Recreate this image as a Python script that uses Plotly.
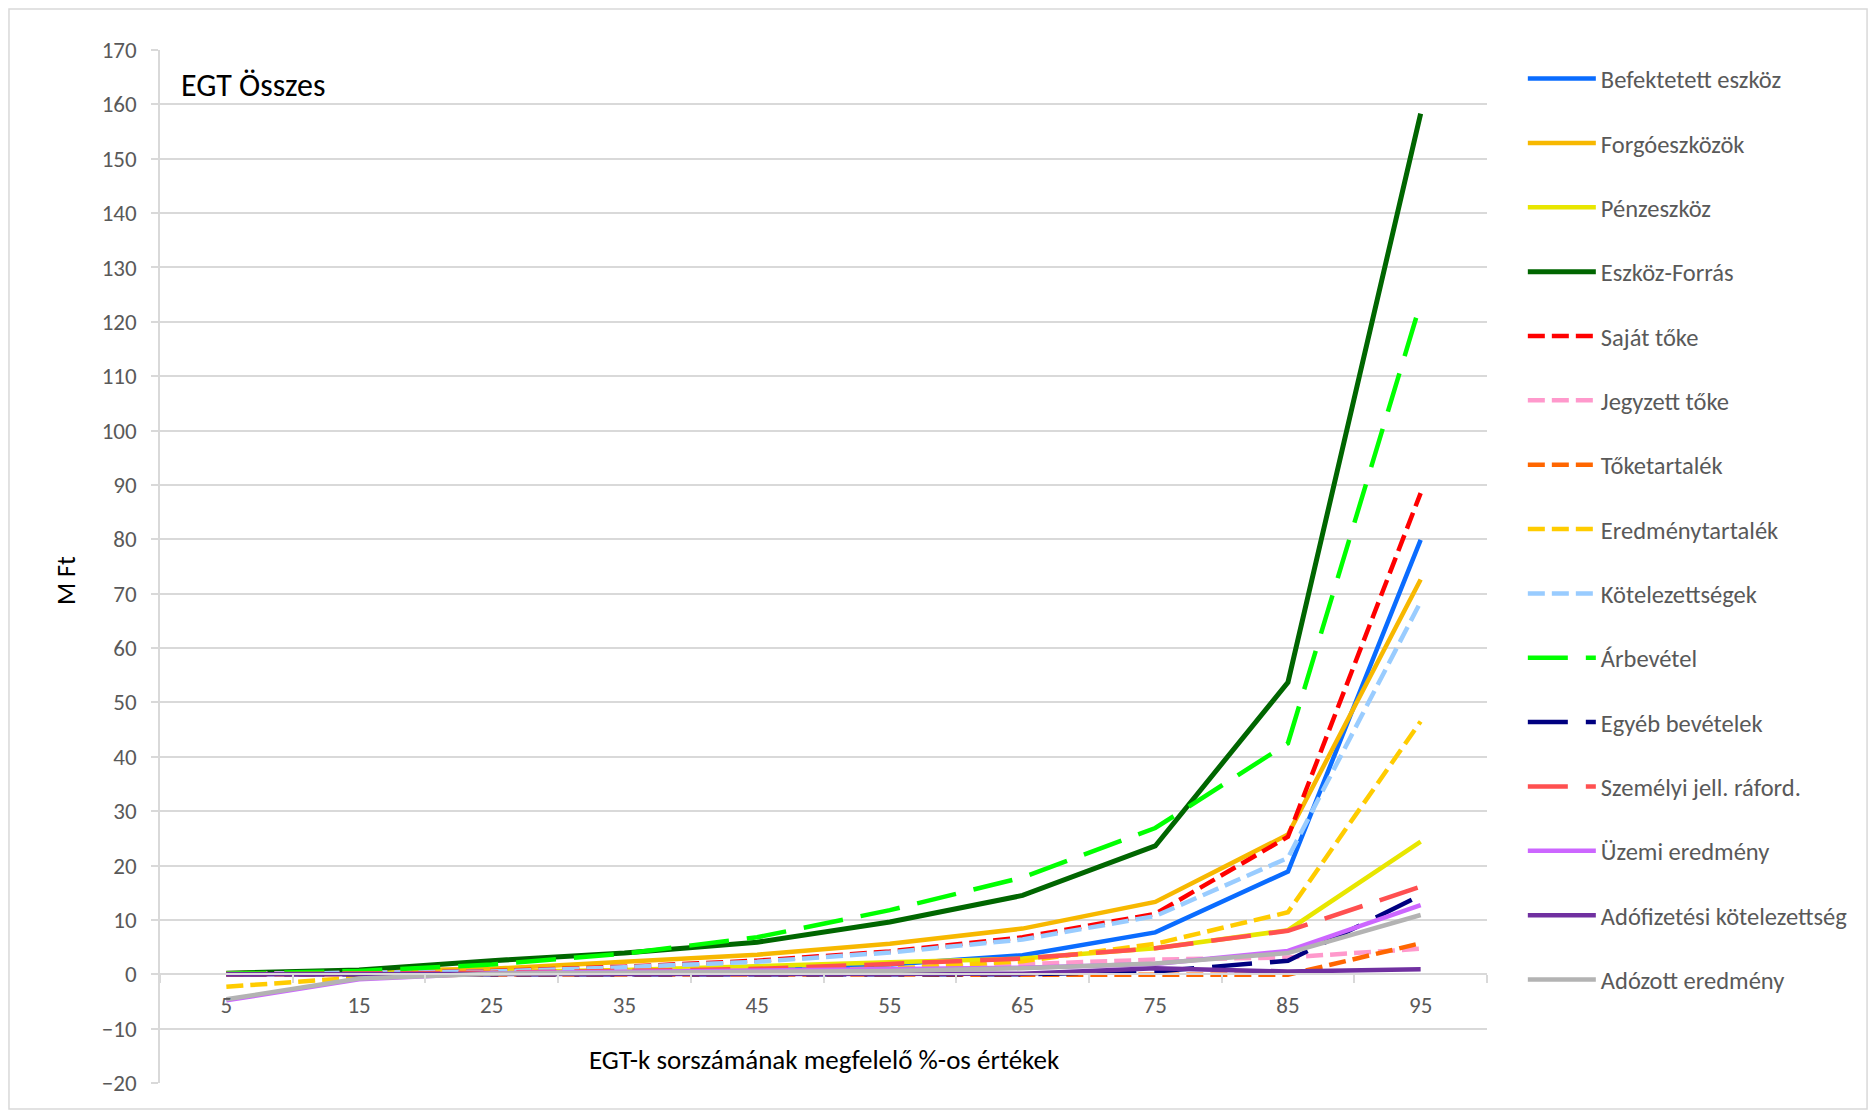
import plotly.graph_objects as go

# percentile categories (x axis)
percentiles = ['5', '15', '25', '35', '45', '55', '65', '75', '85', '95']

# series values, M Ft
befektetett_eszkoz = [0.0, 0.1, 0.2, 0.5, 1.0, 1.8, 3.5, 7.7, 18.9, 79.9]
forgoeszkozok = [0.2, 0.6, 1.0, 2.3, 3.6, 5.6, 8.4, 13.3, 25.7, 72.6]
penzeszkoz = [0.1, 0.2, 0.4, 0.8, 1.4, 2.2, 2.9, 4.8, 8.1, 24.4]
eszkoz_forras = [0.2, 0.8, 2.5, 3.9, 5.9, 9.6, 14.5, 23.6, 53.7, 158.3]
sajat_toke = [0.1, 0.2, 0.6, 1.4, 2.5, 4.2, 6.8, 11.1, 25.3, 88.5]
jegyzett_toke = [0.1, 0.2, 0.3, 0.5, 0.7, 1.0, 1.8, 2.7, 3.1, 4.7]
toketartalek = [0.0, 0.0, 0.0, 0.0, 0.0, 0.0, -0.2, -0.2, -0.1, 5.7]
eredmenytartalek = [-2.3, -0.6, 0.1, 0.4, 0.7, 1.0, 2.4, 5.6, 11.4, 46.5]
kotelezettsegek = [0.0, 0.2, 0.5, 1.3, 2.3, 4.0, 6.4, 10.7, 21.4, 68.5]
arbevetel = [0.1, 0.6, 1.8, 3.8, 6.8, 11.8, 17.8, 26.9, 42.5, 123.5]
egyeb_bevetelek = [0.0, 0.0, 0.1, 0.1, 0.1, 0.1, 0.0, 0.5, 2.5, 14.5]
szemelyi = [0.0, 0.1, 0.3, 0.6, 1.0, 1.9, 2.9, 4.8, 8.0, 16.1]
uzemi_eredmeny = [-4.8, -0.9, 0.2, 0.4, 0.6, 0.8, 1.2, 1.9, 4.3, 12.7]
adofizetesi = [0.0, 0.0, 0.0, 0.1, 0.1, 0.1, 0.1, 1.1, 0.5, 0.9]
adozott_eredmeny = [-4.6, -0.8, 0.1, 0.3, 0.4, 0.6, 1.1, 2.0, 3.9, 10.9]

SHORT = '17px,7px'
LONG = '40px,18px'

series = [
    ('Befektetett eszköz', befektetett_eszkoz, '#0A6CFF', 'solid'),
    ('Forgóeszközök', forgoeszkozok, '#F7B800', 'solid'),
    ('Pénzeszköz', penzeszkoz, '#E8E600', 'solid'),
    ('Eszköz-Forrás', eszkoz_forras, '#006600', 'solid'),
    ('Saját tőke', sajat_toke, '#FF0000', SHORT),
    ('Jegyzett tőke', jegyzett_toke, '#FF99CC', SHORT),
    ('Tőketartalék', toketartalek, '#FF6600', SHORT),
    ('Eredménytartalék', eredmenytartalek, '#FFCC00', SHORT),
    ('Kötelezettségek', kotelezettsegek, '#99CCFF', SHORT),
    ('Árbevétel', arbevetel, '#00FF00', LONG),
    ('Egyéb bevételek', egyeb_bevetelek, '#000080', LONG),
    ('Személyi jell. ráford.', szemelyi, '#FF5050', LONG),
    ('Üzemi eredmény', uzemi_eredmeny, '#CC66FF', 'solid'),
    ('Adófizetési kötelezettség', adofizetesi, '#7030A0', 'solid'),
    ('Adózott eredmény', adozott_eredmeny, '#B3B3B3', 'solid'),
]

FONT = 'Calibri, Carlito, Open Sans, sans-serif'
GRID = '#D9D9D9'
TXT = '#595959'

fig = go.Figure()
for name, vals, color, dash in series:
    fig.add_trace(go.Scatter(x=percentiles, y=vals, name=name, mode='lines',
                             legendgroup=name,
                             line=dict(color=color, width=4.5 if name != 'Eszköz-Forrás' else 5, dash=dash)))

# page body has an 8px margin, so the figure is a bit smaller than the window
fig.update_layout(
    width=1860, height=1102,
    margin=dict(l=152, r=381, t=42, b=27),
    plot_bgcolor='white', paper_bgcolor='white',
    font=dict(family=FONT, color=TXT),
    showlegend=True,
    legend=dict(x=1.027, xanchor='left', y=0.994, yanchor='top',
                font=dict(size=24.5, color=TXT, family=FONT),
                tracegroupgap=29.5, itemwidth=68,
                bgcolor='rgba(0,0,0,0)'),
)

fig.update_xaxes(type='category', range=[-0.5, 9.5], tickson='boundaries',
                 anchor='free', position=20 / 190,
                 showline=True, linecolor=GRID, linewidth=1.5,
                 ticks='outside', ticklen=8, tickcolor=GRID, tickwidth=1.5,
                 ticklabelstandoff=10,
                 showgrid=False, tickfont=dict(size=23, color=TXT))
fig.update_yaxes(range=[-20, 170], tick0=0, dtick=10,
                 showgrid=True, gridcolor=GRID, gridwidth=1.5,
                 showline=True, linecolor=GRID, linewidth=1.5,
                 ticks='outside', ticklen=7, tickcolor=GRID, tickwidth=1.5,
                 ticklabelstandoff=10,
                 zeroline=False, tickfont=dict(size=23, color=TXT))

# chart title and axis titles
fig.add_annotation(text='EGT Összes', x=0.0143, y=0.966, xref='paper', yref='paper',
                   xanchor='left', yanchor='middle', showarrow=False,
                   font=dict(size=32, color='black', family=FONT))
fig.add_annotation(text='M Ft', x=-0.0708, y=0.486, xref='paper', yref='paper',
                   textangle=-90, xanchor='center', yanchor='middle', showarrow=False,
                   font=dict(size=26, color='black', family=FONT))
fig.add_annotation(text='EGT-k sorszámának megfelelő %-os értékek', x=0.5, y=0.0232,
                   xref='paper', yref='paper', xanchor='center', yanchor='middle',
                   showarrow=False, font=dict(size=27, color='black', family=FONT))

# chart area border
fig.add_shape(type='rect', xref='paper', yref='paper', x0=-0.1138, x1=1.2864,
              y0=-0.0252, y1=1.0397, line=dict(color=GRID, width=1.5), layer='below')

fig.write_html("out.html")
